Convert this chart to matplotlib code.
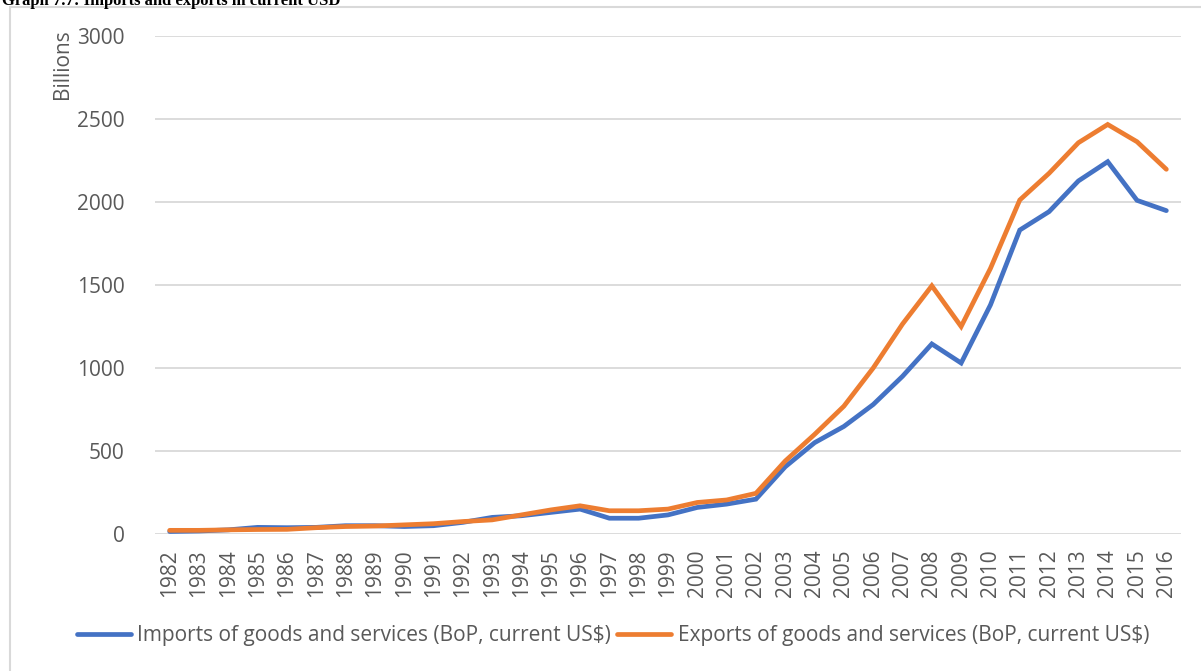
import matplotlib
matplotlib.use("Agg")
import matplotlib.pyplot as plt
from matplotlib.patches import Rectangle

years = [str(y) for y in range(1982, 2017)]
imports = [15, 18, 25, 40, 38, 40, 50, 50, 45, 50, 70, 100, 110, 130, 150,
           95, 95, 115, 160, 180, 210, 405, 550, 648, 780, 950, 1145, 1030,
           1380, 1831, 1942, 2127, 2243, 2010, 1948]
exports = [22, 22, 25, 27, 28, 38, 45, 48, 55, 62, 75, 85, 115, 145, 170,
           140, 140, 150, 190, 205, 245, 440, 600, 770, 1000, 1265, 1495, 1250,
           1600, 2012, 2173, 2357, 2467, 2363, 2197]
yticks = [0, 500, 1000, 1500, 2000, 2500, 3000]

W, H = 1201, 671
fig = plt.figure(figsize=(W / 100, H / 100), dpi=100)
plt.rcParams['font.family'] = ['Open Sans', 'DejaVu Sans']
FS = 15

# outer frame
fig.patches.append(Rectangle((10 / W, -0.01), 1.1, (H - 7) / H + 0.01,
                             transform=fig.transFigure, fill=False,
                             edgecolor='#D9D9D9', linewidth=1.5))
fig.text(2 / W, 1 - 1 / H, "Graph 7.7: Imports and exports in current USD",
         family='Liberation Serif', fontweight='bold', fontsize=12,
         va='center', ha='left', color='black')

ax = fig.add_axes([155 / W, (H - 534) / H, (1181 - 155) / W, (534 - 36) / H])
x = list(range(len(years)))
ax.plot(x, imports, color='#4472C4', lw=3.4, solid_capstyle='round',
        solid_joinstyle='miter', label='Imports of goods and services (BoP, current US$)')
ax.plot(x, exports, color='#ED7D31', lw=3.4, solid_capstyle='round',
        solid_joinstyle='miter', label='Exports of goods and services (BoP, current US$)')

ax.set_xlim(-0.5, len(years) - 0.5)
ax.set_ylim(0, 3000)
ax.set_yticks(yticks)
ax.set_yticklabels([str(v) for v in yticks])
ax.set_xticks(x)
ax.set_xticklabels(years, rotation=90)
ax.tick_params(axis='y', length=0, pad=22, labelsize=FS, labelcolor='#595959')
ax.tick_params(axis='x', length=0, pad=11, labelsize=FS, labelcolor='#595959')
ax.grid(axis='y', color='#D9D9D9', lw=1.3)
ax.set_axisbelow(True)
for s in ax.spines.values():
    s.set_visible(False)

fig.text(62 / W, 1 - 64 / H, "Billions", rotation=90, ha='center', va='center',
         fontsize=FS, color='#595959')

fig.legend(loc='center', bbox_to_anchor=(613 / W, 1 - 636 / H), ncol=2,
           frameon=False, fontsize=FS, handlelength=2.6, handletextpad=0.3,
           columnspacing=0.3, labelcolor='#595959')

fig.savefig("out.png", dpi=100)
